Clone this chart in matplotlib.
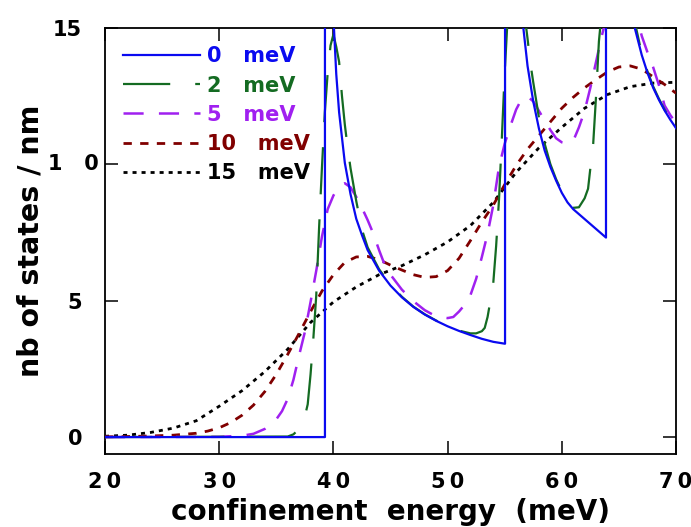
import matplotlib
matplotlib.use("Agg")
import matplotlib.pyplot as plt

# 1D density of states vs confinement energy, for several broadenings (meV)
broadening_labels = ["0   meV", "2   meV", "5   meV", "10   meV", "15   meV"]

energy_0 = [20, 39.26, 39.26, 39.5, 39.75, 40, 40.25, 40.5, 41, 41.5,
            42, 42.5, 43, 44, 45, 46, 47, 48, 49, 50,
            51, 52, 53, 54, 55.03, 55.03, 55.25, 55.5, 56, 56.3,
            56.63, 57, 57.5, 58, 58.5, 59, 59.5, 60, 60.5, 61,
            63.87, 63.87, 64.1, 64.3, 64.6, 65, 65.5, 66, 66.41, 67,
            67.5, 68, 68.5, 69, 69.5, 70]
dos_0 = [0, 0, 60, 27.0, 18.9, 15.4, 13.3, 11.9, 10.05, 8.9,
         8.0, 7.4, 6.85, 6.1, 5.55, 5.12, 4.77, 4.49, 4.26, 4.06,
         3.89, 3.74, 3.6, 3.49, 3.42, 60, 33.0, 24.5, 18.5, 16.4,
         15.0, 13.6, 12.3, 11.3, 10.5, 9.9, 9.4, 8.95, 8.6, 8.35,
         7.31, 60, 35.0, 27.7, 22.8, 19.5, 17.2, 15.8, 14.96, 14.0,
         13.35, 12.8, 12.36, 11.97, 11.63, 11.32]

energy_2 = [20, 36, 36.5, 37, 37.5, 37.75, 38, 38.25, 38.5, 38.75,
            39, 39.25, 39.5, 39.75, 40, 40.25, 40.5, 40.75, 41, 41.25,
            41.5, 42, 42.5, 43, 44, 45, 46, 47, 48, 49,
            50, 51, 52, 52.5, 53, 53.25, 53.5, 53.75, 54, 54.25,
            54.5, 54.75, 55, 55.25, 55.5, 56, 56.5, 57, 57.25, 57.5,
            58, 58.5, 59, 59.5, 60, 60.5, 61, 61.5, 62, 62.3,
            62.5, 62.75, 63, 63.25, 63.5, 64, 64.5, 65, 65.5, 66,
            66.5, 67, 67.5, 68, 68.5, 69, 69.5, 70]
dos_2 = [0, 0.02, 0.1, 0.3, 0.75, 1.2, 2.3, 3.65, 5.2, 7.7,
         9.9, 11.9, 13.35, 14.35, 14.75, 14.3, 13.75, 12.5, 11.45, 10.6,
         9.85, 8.65, 7.6, 6.95, 6.15, 5.58, 5.14, 4.78, 4.5, 4.27,
         4.07, 3.9, 3.8, 3.8, 3.88, 4.0, 4.4, 5.0, 5.65, 7.0,
         8.7, 10.95, 13.35, 15.3, 16.5, 17.2, 16.3, 14.6, 13.7, 13.0,
         11.7, 10.75, 10.0, 9.45, 9.0, 8.65, 8.4, 8.42, 8.75, 9.1,
         9.85, 10.75, 12.5, 14.5, 15.6, 17.3, 18.0, 17.8, 17.0, 16.0,
         15.0, 14.05, 13.4, 12.85, 12.4, 12.0, 11.65, 11.35]

energy_5 = [20, 30, 32, 33, 34, 35, 35.5, 36, 36.5, 37,
            37.5, 38, 38.5, 39, 39.5, 40, 40.5, 41, 41.5, 42,
            42.5, 43, 43.5, 44, 44.5, 45, 46, 47, 48, 49,
            50, 50.5, 51, 51.5, 52, 52.5, 53, 53.5, 54, 54.5,
            55, 55.5, 56, 56.5, 57, 57.5, 58, 58.5, 59, 59.5,
            60, 60.5, 61, 61.5, 62, 62.5, 63, 63.5, 64, 64.5,
            65, 65.5, 66, 66.5, 67, 67.5, 68, 68.5, 69, 69.5, 70]
dos_5 = [0, 0.01, 0.05, 0.12, 0.3, 0.65, 0.95, 1.4, 2.1, 3.0,
         3.85, 4.95, 6.1, 7.35, 8.35, 8.85, 9.2, 9.3, 9.15, 8.8,
         8.4, 7.95, 7.45, 6.85, 6.3, 5.95, 5.4, 4.98, 4.65, 4.42,
         4.36, 4.4, 4.6, 4.85, 5.2, 5.8, 6.6, 7.45, 8.5, 9.9,
         10.75, 11.4, 12.0, 12.4, 12.48, 12.3, 11.95, 11.6, 11.25, 10.95,
         10.8, 10.75, 10.85, 11.35, 11.95, 12.8, 13.75, 14.7, 15.5, 16.3,
         16.8, 16.9, 16.4, 15.5, 14.7, 14.1, 13.55, 12.9, 12.15, 11.8, 11.5]

energy_10 = [20, 22, 24, 26, 28, 29, 30, 31, 32, 33,
             34, 35, 36, 37, 38, 39, 40, 41, 42, 43,
             44, 45, 46, 47, 48, 49, 50, 51, 52, 53,
             54, 55, 56, 57, 58, 59, 60, 61, 62, 63,
             64, 65, 66, 67, 68, 69, 70]
dos_10 = [0.01, 0.02, 0.04, 0.07, 0.14, 0.22, 0.34, 0.53, 0.8, 1.17,
          1.67, 2.3, 3.03, 3.8, 4.6, 5.35, 5.95, 6.4, 6.6, 6.62,
          6.5, 6.3, 6.12, 5.95, 5.85, 5.88, 6.1, 6.55, 7.2, 7.88,
          8.5, 9.25, 9.95, 10.55, 11.05, 11.55, 12.05, 12.45, 12.8, 13.1,
          13.38, 13.56, 13.6, 13.48, 13.2, 12.92, 12.6]

energy_15 = [20, 22, 24, 26, 28, 30, 32, 34, 36, 38,
             40, 42, 44, 46, 48, 50, 52, 54, 56, 58,
             60, 62, 64, 66, 68, 70]
dos_15 = [0.03, 0.07, 0.17, 0.33, 0.6, 1.13, 1.7, 2.4, 3.22, 4.2,
          4.95, 5.5, 5.95, 6.28, 6.68, 7.15, 7.75, 8.6, 9.7, 10.6,
          11.35, 12.05, 12.55, 12.84, 12.97, 13.0]

x_ticks = [20, 30, 40, 50, 60, 70]
x_tick_labels = ["2\u20090", "3\u20090", "4\u20090", "5\u20090", "6\u20090", "7\u20090"]
y_ticks = [0, 5, 10, 15]
y_tick_labels = ["0", "5", "", "15"]

plt.rcParams['font.family'] = ['DejaVu Sans']
plt.rcParams['font.weight'] = 'bold'
plt.rcParams['lines.scale_dashes'] = False

fig = plt.figure(figsize=(6.91, 5.27), dpi=100)
ax = fig.add_axes([105 / 691, 1 - 454 / 527, 571 / 691, 426.3 / 527])

# broadest first so the sharp curve sits on top
ax.plot(energy_15, dos_15, color='black', lw=2.0, dashes=(2.9, 3.6), label=broadening_labels[4], zorder=2)
ax.plot(energy_10, dos_10, color='#800000', lw=2.0, dashes=(6, 6), label=broadening_labels[3], zorder=3)
ax.plot(energy_5, dos_5, color='#a020f0', lw=1.8, dashes=(14.5, 11), label=broadening_labels[2], zorder=4)
ax.plot(energy_2, dos_2, color='#146b22', lw=1.6, dashes=(34, 18), label=broadening_labels[1], zorder=5)
ax.plot(energy_0, dos_0, color='#0a0af0', lw=1.6, label=broadening_labels[0], zorder=6)

ax.set_xlim(20, 70)
ax.set_ylim(-0.62, 15)
ax.set_xticks(x_ticks)
ax.set_xticklabels(x_tick_labels)
ax.set_yticks(y_ticks)
ax.set_yticklabels(y_tick_labels)
ax.tick_params(direction='in', length=9.4, width=1.1, top=True, right=True, labelsize=15)
ax.tick_params(axis='x', pad=13)
ax.tick_params(axis='y', pad=16.5)
for sp in ax.spines.values():
    sp.set_linewidth(1.3)

# the "10" label is spaced out and sits closer to the axis
ax.annotate("1   0", xy=(0, 10), xycoords=ax.get_yaxis_transform(),
            xytext=(-4.5, 0), textcoords='offset points',
            ha='right', va='center', fontsize=15, fontweight='bold')

ax.set_xlabel("confinement  energy  (meV)", fontsize=20, fontweight='bold', labelpad=4)
ax.set_ylabel("nb of states / nm", fontsize=20.5, fontweight='bold', labelpad=6)

handles, labels = ax.get_legend_handles_labels()
ax.legend(handles[::-1], labels[::-1], loc='upper left', bbox_to_anchor=(0.0315, 0.956),
          frameon=False, handlelength=3.7, handletextpad=0.35, labelspacing=0.44,
          borderpad=0, borderaxespad=0, labelcolor='linecolor',
          prop={'size': 15, 'weight': 'bold'})

fig.savefig("out.png", dpi=100)
